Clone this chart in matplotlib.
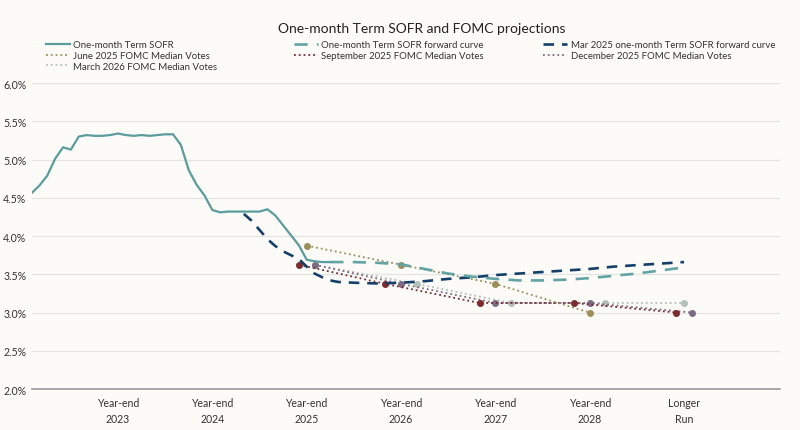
import matplotlib.pyplot as plt
from matplotlib.ticker import FuncFormatter

plt.rcParams['font.family'] = ['Lato', 'DejaVu Sans']

# months counted from Dec 2022 (12 = Dec 2023)
sofr_months = list(range(1, 40))
sofr = [4.56, 4.66, 4.79, 5.01, 5.16, 5.13, 5.30, 5.32, 5.31, 5.31, 5.32, 5.34,
        5.32, 5.31, 5.32, 5.31, 5.32, 5.33, 5.33, 5.19, 4.86, 4.67, 4.53, 4.34,
        4.31, 4.32, 4.32, 4.32, 4.32, 4.32, 4.35, 4.27, 4.14, 4.01, 3.88, 3.69,
        3.67, 3.66, 3.66]

fwd_months = [39, 42, 45, 48, 51, 54, 57, 60, 63, 66, 69, 72, 75, 78, 81, 84]
fwd = [3.66, 3.66, 3.65, 3.63, 3.57, 3.51, 3.47, 3.44, 3.42, 3.42, 3.43, 3.45,
       3.48, 3.51, 3.55, 3.59]

mar25_months = [28, 29, 30, 31, 32, 33, 34, 35, 36, 37, 38, 39, 40, 42, 45, 48,
                51, 54, 57, 60, 63, 66, 69, 72, 75, 78, 81, 84]
mar25_fwd = [4.29, 4.20, 4.08, 3.96, 3.87, 3.80, 3.75, 3.70, 3.60, 3.51, 3.46,
             3.42, 3.40, 3.39, 3.38, 3.39, 3.41, 3.44, 3.46, 3.49, 3.51, 3.53,
             3.55, 3.57, 3.60, 3.62, 3.64, 3.66]

jun25_months = [36, 48, 60, 72]
jun25 = [3.875, 3.625, 3.375, 3.0]
sep25_months = [35, 46, 58, 70, 83]
sep25 = [3.625, 3.375, 3.125, 3.125, 3.0]
dec25_months = [37, 48, 60, 72, 85]
dec25 = [3.625, 3.375, 3.125, 3.125, 3.0]
mar26_months = [37, 50, 62, 74, 84]
mar26 = [3.625, 3.375, 3.125, 3.125, 3.125]

tick_pos = [12, 24, 36, 48, 60, 72, 84]
tick_labels = ['Year-end\n2023', 'Year-end\n2024', 'Year-end\n2025', 'Year-end\n2026',
               'Year-end\n2027', 'Year-end\n2028', 'Longer\nRun']

bg = '#fcfbf8'
fig = plt.figure(figsize=(8, 4.31), dpi=100, facecolor=bg)
ax = fig.add_axes([0.04, 0.095, 0.935, 0.71], facecolor=bg)

dot_kw = dict(linestyle=':', linewidth=1.3, marker='o', markersize=4)
h_mar26, = ax.plot(mar26_months, mar26, color='#b3c2b8', label='March 2026 FOMC Median Votes', **dot_kw)
h_dec, = ax.plot(dec25_months, dec25, color='#7d6a84', label='December 2025 FOMC Median Votes', **dot_kw)
h_sep, = ax.plot(sep25_months, sep25, color='#7c2b2e', label='September 2025 FOMC Median Votes', **dot_kw)
h_jun, = ax.plot(jun25_months, jun25, color='#9c8f58', label='June 2025 FOMC Median Votes', **dot_kw)

h_mar25, = ax.plot(mar25_months, mar25_fwd, color='#143f6b', linewidth=1.9,
                   dashes=(4, 3), label='Mar 2025 one-month Term SOFR forward curve')
h_fwd, = ax.plot(fwd_months, fwd, color='#62a3a4', linewidth=1.9,
                 dashes=(5, 3.5), label='One-month Term SOFR forward curve')
h_sofr, = ax.plot(sofr_months, sofr, color='#5b9c9e', linewidth=1.6, label='One-month Term SOFR')

ax.set_xlim(1.06, 96.2)
ax.set_ylim(2.0, 6.0)
ax.set_yticks([2.0, 2.5, 3.0, 3.5, 4.0, 4.5, 5.0, 5.5, 6.0])
ax.yaxis.set_major_formatter(FuncFormatter(lambda v, p: f'{v:.1f}%'))
ax.set_xticks(tick_pos)
ax.set_xticklabels(tick_labels, linespacing=1.5)
ax.tick_params(length=0, labelsize=7.6, colors='#333333')
ax.tick_params(axis='x', pad=6)
ax.tick_params(axis='y', pad=4)
ax.grid(axis='y', color='#e4e4e2', linewidth=0.9)
ax.set_axisbelow(True)
for s in ['left', 'right', 'top']:
    ax.spines[s].set_visible(False)
ax.spines['bottom'].set_color('#8c8c8c')
ax.spines['bottom'].set_linewidth(1.1)
ax.spines['bottom'].set_zorder(0.5)

fig.text(0.527, 0.933, 'One-month Term SOFR and FOMC projections', ha='center',
         va='center', fontsize=10, color='#222222')

leg_kw = dict(loc='upper left', frameon=False, fontsize=6.9, handlelength=2.5,
              handletextpad=0.35, labelspacing=0.2, borderaxespad=0, borderpad=0)
fig.legend(handles=[h_sofr, h_jun, h_mar26], bbox_to_anchor=(0.057, 0.905), **leg_kw)
fig.legend(handles=[h_fwd, h_sep], bbox_to_anchor=(0.367, 0.905), **leg_kw)
fig.legend(handles=[h_mar25, h_dec], bbox_to_anchor=(0.679, 0.905), **leg_kw)
for lg in fig.legends:
    for h in lg.legend_handles:
        h.set_marker('')
    for t in lg.get_texts():
        t.set_color('#333333')

fig.savefig('out.png', dpi=100, facecolor=bg)
